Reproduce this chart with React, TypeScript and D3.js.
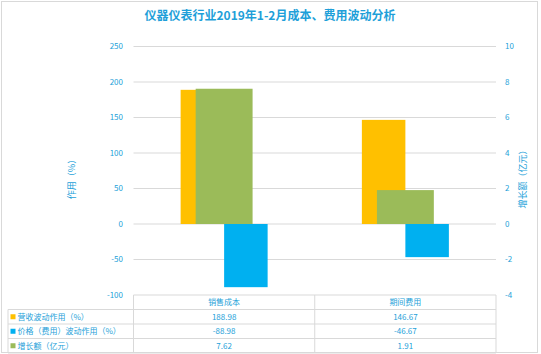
import React from "react";
import * as d3 from "d3";

const categories = ["销售成本", "期间费用"];
const seriesNames = ["营收波动作用（%）", "价格（费用）波动作用（%）", "增长额（亿元）"];
const revenueEffect = [188.98, 146.67];
const priceEffect = [-88.98, -46.67];
const growth = [7.62, 1.91];
const leftTicks = [-100, -50, 0, 50, 100, 150, 200, 250];
const rightTicks = [-4, -2, 0, 2, 4, 6, 8, 10];
const colors = ["#FFC000", "#00B0F0", "#9BBB59"];
const title = "仪器仪表行业2019年1-2月成本、费用波动分析";

const W = 541, H = 354;
const TXT = "#1E9FD9";
const GRID = "#D9D9D9";
const FONT = "'Noto Sans CJK SC', 'Noto Sans', sans-serif";

export default function App() {
  const x0 = 133.5, x1 = 496;
  const yTop = 46.5, yBot = 295;
  const x = d3.scaleBand<string>().domain(categories).range([x0, x1]).padding(0);
  const yL = d3.scaleLinear().domain([-100, 250]).range([yBot, yTop]);
  const yR = d3.scaleLinear().domain([-4, 10]).range([yBot, yTop]);
  const bw = x.bandwidth();
  const barW = bw * 0.24;
  const secW = bw * 0.314;
  const primary = [revenueEffect, priceEffect];

  const rowH = 14.5;
  const rows = [yBot, yBot + rowH, yBot + 2 * rowH, yBot + 3 * rowH, yBot + 4 * rowH];
  const tableValues = [revenueEffect, priceEffect, growth];

  return (
    <svg width={W} height={H} style={{ position: "absolute", left: 0, top: 0, background: "#fff" }} fontFamily={FONT}>
      <rect x={1.5} y={1.5} width={536} height={351} fill="#fff" stroke="#D9D9D9" />
      <text x={270} y={20} textAnchor="middle" fontSize={12} fontWeight="bold" fill={TXT}>{title}</text>
      {leftTicks.map((t) => (
        <g key={"l" + t}>
          {t !== -100 && <line x1={x0} x2={x1} y1={yL(t)} y2={yL(t)} stroke={GRID} strokeWidth={1} />}
          <text x={123} y={yL(t)} dy="0.35em" textAnchor="end" fontSize={8} fill={TXT}>{t}</text>
        </g>
      ))}
      {rightTicks.map((t) => (
        <text key={"r" + t} x={505} y={yR(t)} dy="0.35em" textAnchor="start" fontSize={8} fill={TXT}>{t}</text>
      ))}
      <text transform={`translate(72,177) rotate(-90)`} textAnchor="middle" dy="0.35em" fontSize={9} fill={TXT}>作用（%）</text>
      <text transform={`translate(523,177) rotate(-90)`} textAnchor="middle" dy="0.35em" fontSize={9} fill={TXT}>增长额（亿元）</text>
      {primary.map((vals, si) =>
        categories.map((c, ci) => {
          const cx = (x(c) as number) + bw / 2;
          const bx = cx - barW + si * barW;
          const v = vals[ci];
          return (
            <rect key={si + "-" + ci} x={bx} width={barW} y={Math.min(yL(v), yL(0))} height={Math.abs(yL(v) - yL(0))} fill={colors[si]} />
          );
        })
      )}
      {categories.map((c, ci) => {
        const cx = (x(c) as number) + bw / 2;
        const v = growth[ci];
        return <rect key={"g" + ci} x={cx - secW / 2} width={secW} y={Math.min(yR(v), yR(0))} height={Math.abs(yR(v) - yR(0))} fill={colors[2]} />;
      })}
      {/* data table */}
      <line x1={x0} x2={x1} y1={rows[0]} y2={rows[0]} stroke={GRID} />
      {rows.slice(1).map((r, i) => (
        <line key={"h" + i} x1={8} x2={x1} y1={r} y2={r} stroke={GRID} />
      ))}
      <line x1={8} x2={8} y1={rows[1]} y2={rows[4]} stroke={GRID} />
      {[x0, x0 + bw, x1].map((vx, i) => (
        <line key={"v" + i} x1={vx} x2={vx} y1={rows[0]} y2={rows[4]} stroke={GRID} />
      ))}
      {categories.map((c) => (
        <text key={"c" + c} x={(x(c) as number) + bw / 2} y={rows[0] + rowH / 2} dy="0.35em" textAnchor="middle" fontSize={8} fill={TXT}>{c}</text>
      ))}
      {seriesNames.map((s, si) => (
        <g key={"s" + si}>
          <rect x={10.5} y={rows[si + 1] + rowH / 2 - 2.5} width={5} height={5} fill={colors[si]} />
          <text x={17.5} y={rows[si + 1] + rowH / 2} dy="0.35em" fontSize={8} fill={TXT}>{s}</text>
          {categories.map((c, ci) => (
            <text key={c} x={(x(c) as number) + bw / 2} y={rows[si + 1] + rowH / 2} dy="0.35em" textAnchor="middle" fontSize={8} fill={TXT}>
              {tableValues[si][ci].toFixed(2)}
            </text>
          ))}
        </g>
      ))}
    </svg>
  );
}
